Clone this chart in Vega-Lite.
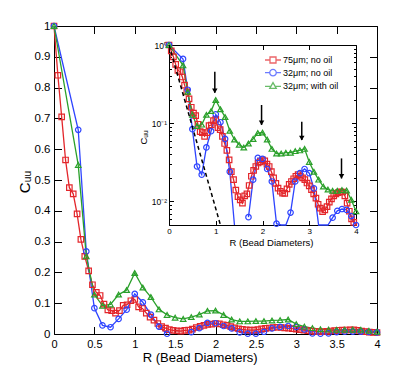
{
  "$schema": "https://vega.github.io/schema/vega-lite/v6.json",
  "width": 323,
  "height": 308,
  "autosize": {"type": "none"},
  "padding": {"left": 54, "top": 26, "right": 38, "bottom": 45},
  "background": "white",
  "config": {
    "view": {"stroke": null},
    "font": "Liberation Sans",
    "axis": {
      "domainColor": "black", "tickColor": "black", "labelColor": "black", "titleColor": "black",
      "grid": false, "labelFont": "Liberation Sans", "titleFont": "Liberation Sans",
      "titleFontWeight": "normal", "domainWidth": 1, "tickWidth": 1,
      "labelFlush": false, "labelOverlap": false
    }
  },
  "datasets": {
    "curves": [
      {"R": 0, "C": 1.0, "s": "75μm; no oil"},
      {"R": 0.048, "C": 0.84, "s": "75μm; no oil"},
      {"R": 0.095, "C": 0.705, "s": "75μm; no oil"},
      {"R": 0.143, "C": 0.565, "s": "75μm; no oil"},
      {"R": 0.19, "C": 0.475, "s": "75μm; no oil"},
      {"R": 0.238, "C": 0.455, "s": "75μm; no oil"},
      {"R": 0.286, "C": 0.39, "s": "75μm; no oil"},
      {"R": 0.333, "C": 0.307, "s": "75μm; no oil"},
      {"R": 0.381, "C": 0.252, "s": "75μm; no oil"},
      {"R": 0.429, "C": 0.205, "s": "75μm; no oil"},
      {"R": 0.476, "C": 0.16, "s": "75μm; no oil"},
      {"R": 0.524, "C": 0.135, "s": "75μm; no oil"},
      {"R": 0.571, "C": 0.125, "s": "75μm; no oil"},
      {"R": 0.619, "C": 0.097, "s": "75μm; no oil"},
      {"R": 0.667, "C": 0.078, "s": "75μm; no oil"},
      {"R": 0.714, "C": 0.076, "s": "75μm; no oil"},
      {"R": 0.762, "C": 0.068, "s": "75μm; no oil"},
      {"R": 0.81, "C": 0.076, "s": "75μm; no oil"},
      {"R": 0.857, "C": 0.093, "s": "75μm; no oil"},
      {"R": 0.905, "C": 0.095, "s": "75μm; no oil"},
      {"R": 0.952, "C": 0.108, "s": "75μm; no oil"},
      {"R": 1.0, "C": 0.112, "s": "75μm; no oil"},
      {"R": 1.048, "C": 0.088, "s": "75μm; no oil"},
      {"R": 1.095, "C": 0.083, "s": "75μm; no oil"},
      {"R": 1.143, "C": 0.068, "s": "75μm; no oil"},
      {"R": 1.19, "C": 0.055, "s": "75μm; no oil"},
      {"R": 1.238, "C": 0.045, "s": "75μm; no oil"},
      {"R": 1.286, "C": 0.034, "s": "75μm; no oil"},
      {"R": 1.333, "C": 0.024, "s": "75μm; no oil"},
      {"R": 1.381, "C": 0.019, "s": "75μm; no oil"},
      {"R": 1.429, "C": 0.014, "s": "75μm; no oil"},
      {"R": 1.476, "C": 0.0115, "s": "75μm; no oil"},
      {"R": 1.524, "C": 0.0105, "s": "75μm; no oil"},
      {"R": 1.571, "C": 0.0095, "s": "75μm; no oil"},
      {"R": 1.619, "C": 0.0118, "s": "75μm; no oil"},
      {"R": 1.667, "C": 0.0125, "s": "75μm; no oil"},
      {"R": 1.714, "C": 0.016, "s": "75μm; no oil"},
      {"R": 1.762, "C": 0.021, "s": "75μm; no oil"},
      {"R": 1.81, "C": 0.025, "s": "75μm; no oil"},
      {"R": 1.857, "C": 0.028, "s": "75μm; no oil"},
      {"R": 1.905, "C": 0.031, "s": "75μm; no oil"},
      {"R": 1.952, "C": 0.032, "s": "75μm; no oil"},
      {"R": 2.0, "C": 0.034, "s": "75μm; no oil"},
      {"R": 2.048, "C": 0.033, "s": "75μm; no oil"},
      {"R": 2.095, "C": 0.03, "s": "75μm; no oil"},
      {"R": 2.143, "C": 0.028, "s": "75μm; no oil"},
      {"R": 2.19, "C": 0.024, "s": "75μm; no oil"},
      {"R": 2.238, "C": 0.02, "s": "75μm; no oil"},
      {"R": 2.286, "C": 0.017, "s": "75μm; no oil"},
      {"R": 2.333, "C": 0.0148, "s": "75μm; no oil"},
      {"R": 2.381, "C": 0.0135, "s": "75μm; no oil"},
      {"R": 2.429, "C": 0.0128, "s": "75μm; no oil"},
      {"R": 2.476, "C": 0.0127, "s": "75μm; no oil"},
      {"R": 2.524, "C": 0.0145, "s": "75μm; no oil"},
      {"R": 2.571, "C": 0.0165, "s": "75μm; no oil"},
      {"R": 2.619, "C": 0.018, "s": "75μm; no oil"},
      {"R": 2.667, "C": 0.0195, "s": "75μm; no oil"},
      {"R": 2.714, "C": 0.021, "s": "75μm; no oil"},
      {"R": 2.762, "C": 0.022, "s": "75μm; no oil"},
      {"R": 2.81, "C": 0.021, "s": "75μm; no oil"},
      {"R": 2.857, "C": 0.02, "s": "75μm; no oil"},
      {"R": 2.905, "C": 0.019, "s": "75μm; no oil"},
      {"R": 2.952, "C": 0.0172, "s": "75μm; no oil"},
      {"R": 3.0, "C": 0.0158, "s": "75μm; no oil"},
      {"R": 3.048, "C": 0.0142, "s": "75μm; no oil"},
      {"R": 3.095, "C": 0.0125, "s": "75μm; no oil"},
      {"R": 3.143, "C": 0.011, "s": "75μm; no oil"},
      {"R": 3.19, "C": 0.0092, "s": "75μm; no oil"},
      {"R": 3.238, "C": 0.0082, "s": "75μm; no oil"},
      {"R": 3.286, "C": 0.0074, "s": "75μm; no oil"},
      {"R": 3.333, "C": 0.0078, "s": "75μm; no oil"},
      {"R": 3.381, "C": 0.0086, "s": "75μm; no oil"},
      {"R": 3.429, "C": 0.0098, "s": "75μm; no oil"},
      {"R": 3.476, "C": 0.0108, "s": "75μm; no oil"},
      {"R": 3.524, "C": 0.0118, "s": "75μm; no oil"},
      {"R": 3.571, "C": 0.0125, "s": "75μm; no oil"},
      {"R": 3.619, "C": 0.013, "s": "75μm; no oil"},
      {"R": 3.667, "C": 0.0133, "s": "75μm; no oil"},
      {"R": 3.714, "C": 0.0132, "s": "75μm; no oil"},
      {"R": 3.762, "C": 0.0118, "s": "75μm; no oil"},
      {"R": 3.81, "C": 0.0095, "s": "75μm; no oil"},
      {"R": 3.857, "C": 0.0075, "s": "75μm; no oil"},
      {"R": 3.905, "C": 0.006, "s": "75μm; no oil"},
      {"R": 3.952, "C": 0.0054, "s": "75μm; no oil"},
      {"R": 4.0, "C": 0.0048, "s": "75μm; no oil"},

      {"R": 0, "C": 1.0, "s": "32μm; no oil"},
      {"R": 0.3, "C": 0.663, "s": "32μm; no oil"},
      {"R": 0.4, "C": 0.268, "s": "32μm; no oil"},
      {"R": 0.5, "C": 0.084, "s": "32μm; no oil"},
      {"R": 0.6, "C": 0.028, "s": "32μm; no oil"},
      {"R": 0.7, "C": 0.022, "s": "32μm; no oil"},
      {"R": 0.8, "C": 0.049, "s": "32μm; no oil"},
      {"R": 0.9, "C": 0.079, "s": "32μm; no oil"},
      {"R": 1.0, "C": 0.13, "s": "32μm; no oil"},
      {"R": 1.1, "C": 0.103, "s": "32μm; no oil"},
      {"R": 1.2, "C": 0.063, "s": "32μm; no oil"},
      {"R": 1.3, "C": 0.024, "s": "32μm; no oil"},
      {"R": 1.4, "C": 0.0008, "s": "32μm; no oil"},
      {"R": 1.5, "C": null, "s": "32μm; no oil"},
      {"R": 1.6, "C": null, "s": "32μm; no oil"},
      {"R": 1.7, "C": 0.0063, "s": "32μm; no oil"},
      {"R": 1.8, "C": 0.019, "s": "32μm; no oil"},
      {"R": 1.9, "C": 0.036, "s": "32μm; no oil"},
      {"R": 2.0, "C": 0.035, "s": "32μm; no oil"},
      {"R": 2.1, "C": 0.026, "s": "32μm; no oil"},
      {"R": 2.2, "C": 0.018, "s": "32μm; no oil"},
      {"R": 2.3, "C": 0.0052, "s": "32μm; no oil"},
      {"R": 2.4, "C": 0.001, "s": "32μm; no oil"},
      {"R": 2.5, "C": 0.001, "s": "32μm; no oil"},
      {"R": 2.6, "C": 0.0072, "s": "32μm; no oil"},
      {"R": 2.7, "C": 0.018, "s": "32μm; no oil"},
      {"R": 2.8, "C": 0.023, "s": "32μm; no oil"},
      {"R": 2.9, "C": 0.026, "s": "32μm; no oil"},
      {"R": 3.0, "C": 0.023, "s": "32μm; no oil"},
      {"R": 3.1, "C": 0.0147, "s": "32μm; no oil"},
      {"R": 3.2, "C": 0.002, "s": "32μm; no oil"},
      {"R": 3.3, "C": 0.001, "s": "32μm; no oil"},
      {"R": 3.4, "C": 0.002, "s": "32μm; no oil"},
      {"R": 3.5, "C": 0.0062, "s": "32μm; no oil"},
      {"R": 3.6, "C": 0.0076, "s": "32μm; no oil"},
      {"R": 3.7, "C": 0.008, "s": "32μm; no oil"},
      {"R": 3.8, "C": 0.0078, "s": "32μm; no oil"},
      {"R": 3.9, "C": 0.0065, "s": "32μm; no oil"},
      {"R": 4.0, "C": 0.005, "s": "32μm; no oil"},

      {"R": 0, "C": 1.0, "s": "32μm; with oil"},
      {"R": 0.3, "C": 0.549, "s": "32μm; with oil"},
      {"R": 0.4, "C": 0.252, "s": "32μm; with oil"},
      {"R": 0.5, "C": 0.128, "s": "32μm; with oil"},
      {"R": 0.6, "C": 0.092, "s": "32μm; with oil"},
      {"R": 0.7, "C": 0.096, "s": "32μm; with oil"},
      {"R": 0.8, "C": 0.128, "s": "32μm; with oil"},
      {"R": 0.9, "C": 0.143, "s": "32μm; with oil"},
      {"R": 1.0, "C": 0.198, "s": "32μm; with oil"},
      {"R": 1.1, "C": 0.151, "s": "32μm; with oil"},
      {"R": 1.2, "C": 0.12, "s": "32μm; with oil"},
      {"R": 1.3, "C": 0.08, "s": "32μm; with oil"},
      {"R": 1.4, "C": 0.062, "s": "32μm; with oil"},
      {"R": 1.5, "C": 0.053, "s": "32μm; with oil"},
      {"R": 1.6, "C": 0.049, "s": "32μm; with oil"},
      {"R": 1.7, "C": 0.055, "s": "32μm; with oil"},
      {"R": 1.8, "C": 0.063, "s": "32μm; with oil"},
      {"R": 1.9, "C": 0.075, "s": "32μm; with oil"},
      {"R": 2.0, "C": 0.076, "s": "32μm; with oil"},
      {"R": 2.1, "C": 0.062, "s": "32μm; with oil"},
      {"R": 2.2, "C": 0.047, "s": "32μm; with oil"},
      {"R": 2.3, "C": 0.041, "s": "32μm; with oil"},
      {"R": 2.4, "C": 0.041, "s": "32μm; with oil"},
      {"R": 2.5, "C": 0.042, "s": "32μm; with oil"},
      {"R": 2.6, "C": 0.042, "s": "32μm; with oil"},
      {"R": 2.7, "C": 0.044, "s": "32μm; with oil"},
      {"R": 2.8, "C": 0.045, "s": "32μm; with oil"},
      {"R": 2.9, "C": 0.047, "s": "32μm; with oil"},
      {"R": 3.0, "C": 0.032, "s": "32μm; with oil"},
      {"R": 3.1, "C": 0.024, "s": "32μm; with oil"},
      {"R": 3.2, "C": 0.019, "s": "32μm; with oil"},
      {"R": 3.3, "C": 0.0155, "s": "32μm; with oil"},
      {"R": 3.4, "C": 0.0142, "s": "32μm; with oil"},
      {"R": 3.5, "C": 0.0137, "s": "32μm; with oil"},
      {"R": 3.6, "C": 0.0137, "s": "32μm; with oil"},
      {"R": 3.7, "C": 0.014, "s": "32μm; with oil"},
      {"R": 3.8, "C": 0.0138, "s": "32μm; with oil"},
      {"R": 3.9, "C": 0.0105, "s": "32μm; with oil"},
      {"R": 4.0, "C": 0.0075, "s": "32μm; with oil"}
    ],
    "dash": [
      {"R": 0, "C": 1.0},
      {"R": 1.1, "C": 0.005}
    ],
    "arrows": [
      {"R": 0.98, "top": 0.456, "tip": 0.245},
      {"R": 1.98, "top": 0.171, "tip": 0.095},
      {"R": 2.84, "top": 0.1045, "tip": 0.061},
      {"R": 3.69, "top": 0.0355, "tip": 0.0197}
    ],
    "series": [
      {"s": "75μm; no oil"},
      {"s": "32μm; no oil"},
      {"s": "32μm; with oil"}
    ],
    "dummy": [{"R": 0, "C": 1}]
  },
  "resolve": {
    "scale": {"x": "independent", "y": "independent", "color": "independent", "shape": "independent"},
    "axis": {"x": "independent", "y": "independent"}
  },
  "layer": [
    {
      "data": {"name": "curves"},
      "encoding": {
        "x": {
          "field": "R", "type": "quantitative",
          "scale": {"domain": [0, 4], "nice": false, "zero": false},
          "axis": {
            "orient": "bottom", "values": [0, 0.5, 1, 1.5, 2, 2.5, 3, 3.5, 4], "format": "~g",
            "tickSize": -7.5, "labelPadding": 11.5, "labelFontSize": 11,
            "title": "R (Bead Diameters)", "titleFontSize": 13, "titleX": 145.7, "titleY": 27.5,
            "titleAlign": "center", "titleBaseline": "alphabetic"
          }
        },
        "y": {
          "field": "C", "type": "quantitative",
          "scale": {"domain": [0, 1], "nice": false},
          "axis": {
            "orient": "left", "values": [0, 0.1, 0.2, 0.3, 0.4, 0.5, 0.6, 0.7, 0.8, 0.9, 1], "format": "~g",
            "tickSize": -7.5, "labelPadding": 11.5, "labelFontSize": 11.5,
            "title": "Cᵤᵤ", "titleFontSize": 15, "titleX": -25, "titleY": 155.5, "titleAngle": 270,
            "titleAlign": "center", "titleBaseline": "alphabetic"
          }
        },
        "color": {
          "field": "s", "type": "nominal",
          "scale": {"domain": ["75μm; no oil", "32μm; no oil", "32μm; with oil"], "range": ["#e3262b", "#2e44ff", "#2aa02a"]},
          "legend": null
        }
      },
      "layer": [
        {"mark": {"type": "line", "strokeWidth": 1.3, "invalid": "break-paths-show-domains"}},
        {
          "mark": {"type": "point", "filled": false, "size": 30, "strokeWidth": 1.2, "opacity": 1},
          "transform": [{"filter": "isValid(datum.C)"}],
          "encoding": {
            "shape": {"field": "s", "type": "nominal", "legend": null, "scale": {"domain": ["75μm; no oil", "32μm; no oil", "32μm; with oil"], "range": ["square", "circle", "triangle-up"]}}
          }
        }
      ]
    },
    {
      "data": {"name": "dummy"},
      "mark": {"type": "point", "opacity": 0},
      "encoding": {
        "x": {
          "field": "R", "type": "quantitative", "scale": {"domain": [0, 4], "nice": false},
          "axis": {"orient": "top", "values": [0, 0.5, 1, 1.5, 2, 2.5, 3, 3.5, 4], "labels": false, "tickSize": -7.5, "title": null}
        },
        "y": {
          "field": "C", "type": "quantitative", "scale": {"domain": [0, 1], "nice": false},
          "axis": {"orient": "right", "values": [0, 0.1, 0.2, 0.3, 0.4, 0.5, 0.6, 0.7, 0.8, 0.9, 1], "labels": false, "tickSize": -7.5, "title": null}
        }
      }
    },
    {
      "data": {"name": "curves"},
      "encoding": {
        "x": {
          "field": "R", "type": "quantitative",
          "scale": {"domain": [0, 4], "nice": false, "range": [115, 302]},
          "axis": {
            "orient": "bottom", "offset": -109, "values": [0, 1, 2, 3, 4], "format": "d",
            "tickSize": -4.5, "labelPadding": 7, "labelFontSize": 8,
            "title": "R (Bead Diameters)", "titleFontSize": 9.5, "titleX": 217, "titleY": 20,
            "titleAlign": "center", "titleBaseline": "alphabetic"
          }
        },
        "y": {
          "field": "C", "type": "quantitative",
          "scale": {"type": "log", "domain": [0.005, 1], "range": [199, 19], "clamp": true, "nice": false},
          "axis": {
            "orient": "left", "offset": -115,
            "values": [0.005, 0.006, 0.007, 0.008, 0.009, 0.01, 0.02, 0.03, 0.04, 0.05, 0.06, 0.07, 0.08, 0.09, 0.1, 0.2, 0.3, 0.4, 0.5, 0.6, 0.7, 0.8, 0.9, 1],
            "labelExpr": "datum.value == 1 ? '10⁰' : datum.value == 0.1 ? '10⁻¹' : datum.value == 0.01 ? '10⁻²' : ''",
            "tickSize": {"condition": {"test": "datum.value == 1 || datum.value == 0.1 || datum.value == 0.01", "value": -4.5}, "value": -2.5},
            "labelPadding": 7, "labelFontSize": 8.5,
            "title": "Cᵤᵤ", "titleFontSize": 9.5, "titleX": -22.5, "titleY": 111, "titleAngle": 270,
            "titleAlign": "center", "titleBaseline": "alphabetic"
          }
        },
        "color": {
          "field": "s", "type": "nominal",
          "scale": {"domain": ["75μm; no oil", "32μm; no oil", "32μm; with oil"], "range": ["#e3262b", "#2e44ff", "#2aa02a"]},
          "legend": null
        }
      },
      "layer": [
        {"mark": {"type": "line", "strokeWidth": 1.3, "invalid": "break-paths-show-domains"}},
        {
          "mark": {"type": "point", "filled": false, "size": 30, "strokeWidth": 1.2, "opacity": 1},
          "transform": [{"filter": "isValid(datum.C) && datum.C >= 0.005"}],
          "encoding": {
            "shape": {"field": "s", "type": "nominal", "legend": null, "scale": {"domain": ["75μm; no oil", "32μm; no oil", "32μm; with oil"], "range": ["square", "circle", "triangle-up"]}}
          }
        },
        {
          "data": {"name": "dash"},
          "mark": {"type": "line", "strokeDash": [4, 3], "strokeWidth": 1.5},
          "encoding": {"color": {"value": "black"}}
        },
        {
          "data": {"name": "arrows"},
          "mark": {"type": "rule", "strokeWidth": 1.5},
          "encoding": {
            "y": {"field": "top", "type": "quantitative"},
            "y2": {"field": "tip"},
            "color": {"value": "black"}
          }
        },
        {
          "data": {"name": "arrows"},
          "mark": {"type": "point", "shape": "triangle-down", "filled": true, "size": 30, "opacity": 1, "yOffset": -2},
          "encoding": {
            "y": {"field": "tip", "type": "quantitative"},
            "color": {"value": "black"}
          }
        }
      ]
    },
    {
      "data": {"name": "dummy"},
      "mark": {"type": "point", "opacity": 0},
      "encoding": {
        "x": {
          "field": "R", "type": "quantitative", "scale": {"domain": [0, 4], "nice": false, "range": [115, 302]},
          "axis": {"orient": "top", "offset": -19, "values": [0, 1, 2, 3, 4], "labels": false, "tickSize": -4.5, "title": null}
        },
        "y": {
          "field": "C", "type": "quantitative",
          "scale": {"type": "log", "domain": [0.005, 1], "range": [199, 19], "nice": false},
          "axis": {
            "orient": "right", "offset": -21, "labels": false, "title": null,
            "values": [0.005, 0.006, 0.007, 0.008, 0.009, 0.01, 0.02, 0.03, 0.04, 0.05, 0.06, 0.07, 0.08, 0.09, 0.1, 0.2, 0.3, 0.4, 0.5, 0.6, 0.7, 0.8, 0.9, 1],
            "tickSize": {"condition": {"test": "datum.value == 1 || datum.value == 0.1 || datum.value == 0.01", "value": -4.5}, "value": -2.5}
          }
        }
      }
    },
    {
      "data": {"name": "series"},
      "mark": {"type": "point", "filled": false, "strokeWidth": 1.3, "clip": true},
      "encoding": {
        "x": {"datum": -10, "type": "quantitative", "scale": {"domain": [0, 4]}, "axis": null},
        "color": {
          "field": "s", "type": "nominal",
          "scale": {"domain": ["75μm; no oil", "32μm; no oil", "32μm; with oil"], "range": ["#e3262b", "#2e44ff", "#2aa02a"]},
          "legend": {
            "title": null, "orient": "none", "legendX": 213, "legendY": 28,
            "labelFontSize": 9, "labelFont": "Liberation Sans", "labelColor": "black",
            "symbolSize": 100, "symbolStrokeWidth": 1.3, "labelOffset": 4, "rowPadding": 0.7, "padding": 0
          }
        },
        "shape": {
          "field": "s", "type": "nominal",
          "scale": {
            "domain": ["75μm; no oil", "32μm; no oil", "32μm; with oil"],
            "range": [
              "M-1.6,0H-0.6M0.6,0H1.6M-0.6,-0.6H0.6V0.6H-0.6Z",
              "M-1.6,0H-0.65M0.65,0H1.6M0.65,0A0.65,0.65,0,1,1,-0.65,0A0.65,0.65,0,1,1,0.65,0Z",
              "M-1.6,0H-0.42M0.42,0H1.6M0,-0.75L0.65,0.4L-0.65,0.4Z"
            ]
          },
          "legend": {
            "title": null, "orient": "none", "legendX": 213, "legendY": 28,
            "labelFontSize": 9, "labelFont": "Liberation Sans", "labelColor": "black",
            "symbolSize": 100, "symbolStrokeWidth": 1.3, "labelOffset": 4, "rowPadding": 0.7, "padding": 0
          }
        }
      }
    }
  ]
}
